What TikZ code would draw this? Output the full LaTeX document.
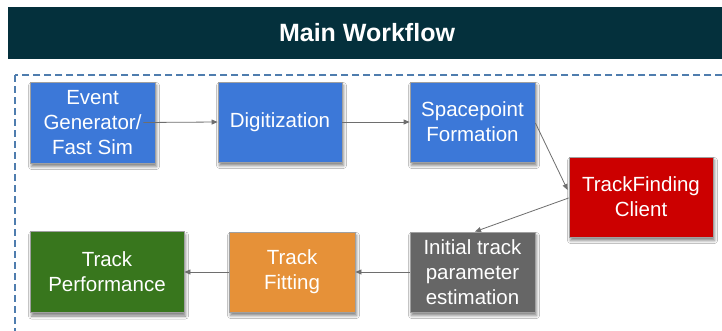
\documentclass[tikz,border=0pt]{standalone}
\usepackage{fontspec}
\setmainfont{Liberation Sans}
\usetikzlibrary{arrows.meta,shadows.blur}

\definecolor{barcol}{HTML}{04303C}
\definecolor{framecol}{HTML}{4F7DAE}
\definecolor{bluebox}{HTML}{3C78D8}
\definecolor{redbox}{HTML}{CC0000}
\definecolor{graybox}{HTML}{666666}
\definecolor{orangebox}{HTML}{E69138}
\definecolor{greenbox}{HTML}{38761D}
\definecolor{linkcol}{HTML}{6E6E6E}
\definecolor{edgecol}{HTML}{A0A0A0}

\tikzset{
  stepbox/.style={draw=edgecol, line width=0.8pt, text=white,
    minimum width=125pt, minimum height=80pt, inner sep=2pt, align=center,
    font=\fontsize{20.5}{25}\selectfont,
    blur shadow={shadow xshift=1.5pt, shadow yshift=-3.5pt,
      shadow blur radius=3pt, shadow opacity=50}},
  link/.style={draw=linkcol, line width=0.8pt,
    -{Triangle[length=6pt,width=5pt]}}
}

\begin{document}
\begin{tikzpicture}[x=1pt,y=-1pt]
  \useasboundingbox (0,0) rectangle (722,330);
  \fill[white] (0,0) rectangle (722,330);

  % title bar
  \fill[barcol] (8,7) rectangle (740,59);
  \node[text=white, font=\fontsize{25}{30}\selectfont\bfseries] (title) at (367,33) {Main Workflow};

  % dashed frame around the workflow (its lower edge runs along the page border)
  \draw[framecol, line width=1.4pt, dash pattern=on 7pt off 4pt] (15,75) rectangle (745,331.2);

  % processing steps
  \node[stepbox, fill=bluebox, minimum height=81pt] (ev) at (92.5,122.5) {Event\\Generator/\\Fast Sim};
  \node[stepbox, fill=bluebox, minimum width=124pt] (dig) at (280,122) {Digitization};
  \node[stepbox, fill=bluebox] (sp) at (472.5,122) {Spacepoint\\Formation};
  \node[stepbox, fill=redbox, minimum width=144pt] (tf) at (641,197) {TrackFinding\\Client};
  \node[stepbox, fill=graybox] (init) at (472.5,272) {Initial track\\parameter\\estimation};
  \node[stepbox, fill=orangebox, minimum width=126pt] (fit) at (292,272) {Track\\Fitting};
  \node[stepbox, fill=greenbox, minimum width=154pt, minimum height=81pt] (perf) at (107,272) {Track\\Performance};

  % connectors
  \draw[link] ([xshift=-12pt]ev.east) -- (dig.west);
  \draw[link] (dig.east) -- (sp.west);
  \draw[link] ([yshift=-1pt]sp.east) -- ([xshift=-1pt,yshift=7pt]tf.west);
  \draw[link] ([yshift=-1pt]tf.west) -- ([xshift=2.5pt]init.north);
  \draw[link] (init.west) -- (fit.east);
  \draw[link] (fit.west) -- (perf.east);
\end{tikzpicture}
\end{document}
